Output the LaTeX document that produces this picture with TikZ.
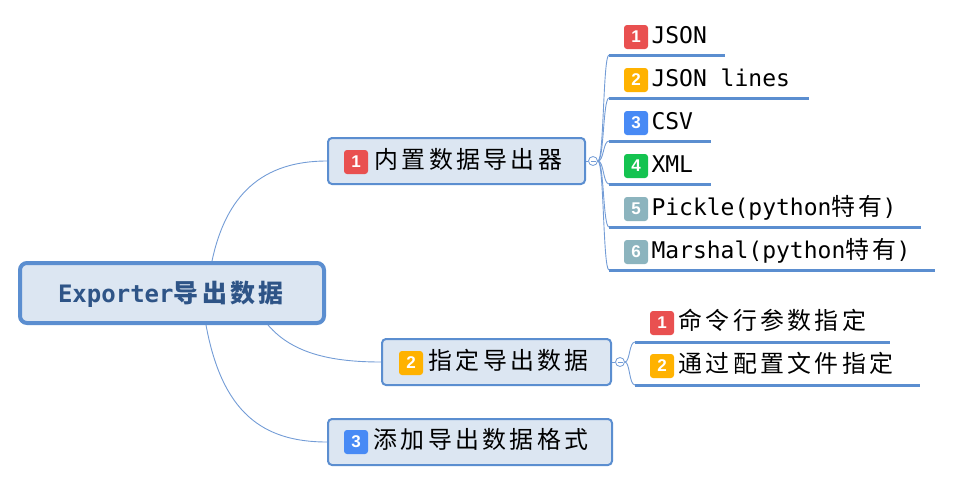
\documentclass[tikz,border=0pt]{standalone}
\usepackage{fontspec}
\setmainfont{DejaVu Sans Mono}
\newfontfamily\cjk[LetterSpace=14,Scale=1.04]{Noto Sans CJK SC}
\newfontfamily\numfont{Liberation Sans}
\definecolor{mapblue}{RGB}{91,142,208}
\definecolor{mapfill}{RGB}{220,230,242}
\definecolor{mapline}{RGB}{115,156,214}
\definecolor{roottext}{RGB}{46,84,135}
\definecolor{prio1}{RGB}{233,80,80}
\definecolor{prio2}{RGB}{255,178,0}
\definecolor{prio3}{RGB}{72,138,245}
\definecolor{prio4}{RGB}{20,195,80}
\definecolor{prio5}{RGB}{140,180,190}

\begin{document}
\begin{tikzpicture}[x=1pt,y=-1pt,line width=1pt]
  \tikzstyle{every node}=[font=\fontsize{23}{25}\selectfont]
  \tikzstyle{topic}=[draw=mapblue,fill=mapfill,rounded corners=4pt,line width=2pt]
  \tikzstyle{badge}=[rounded corners=3pt,minimum size=24pt,inner sep=0pt,text=white,font=\numfont\bfseries\fontsize{17}{17}\selectfont]
  \tikzstyle{leaf}=[anchor=west,inner sep=0pt,text height=17pt,text depth=4pt]
  \tikzstyle{uline}=[draw=mapblue,line width=3pt]
  \tikzstyle{conn}=[draw=mapline,line width=0.9pt]
  \tikzstyle{fold}=[draw=mapline,fill=white,circle,minimum size=9pt,inner sep=0pt,line width=0.8pt]
  \useasboundingbox (0,0) rectangle (953,483);

  % root
  \node[topic,line width=4pt,rounded corners=7pt,minimum width=304pt,minimum height=60pt] (root) at (172,293) {};
  \node[text=roottext,font=\fontsize{24}{26}\selectfont\bfseries] (roottxt) at (171,294) {Exporter{\cjk 导出数据}};

  % main topics
  \node[topic,minimum width=257pt,minimum height=46pt] (k1) at (456.5,161) {};
  \node[badge,fill=prio1] (k1b) at (356,162) {1};
  \node[leaf] (k1t) at (374,162) {\cjk 内置数据导出器};
  \node[topic,minimum width=229pt,minimum height=46pt] (k2) at (496.5,362) {};
  \node[badge,fill=prio2] (k2b) at (411,363) {2};
  \node[leaf] (k2t) at (428,363) {\cjk 指定导出数据};
  \node[topic,minimum width=284pt,minimum height=46pt] (k3) at (470,442) {};
  \node[badge,fill=prio3] (k3b) at (356,442) {3};
  \node[leaf] (k3t) at (373,442) {\cjk 添加导出数据格式};

  \draw[conn] ([xshift=40pt]root.north) .. controls (226,195) and (262,161) .. (k1.west);
  \draw[conn] ([xshift=96pt]root.south) .. controls (292,353) and (330,362) .. (k2.west);
  \draw[conn] ([xshift=34pt]root.south) .. controls (222,412) and (262,442) .. (k3.west);

  % exporters
  \node[fold] (c1) at (593,161) {};
  \draw[mapline,line width=0.8pt] ([xshift=-2.5pt]c1.center) -- ([xshift=2.5pt]c1.center);
  \draw[conn] (k1.east) -- (c1.west);
  \foreach \y/\e/\n/\c/\t in {55/725/1/prio1/JSON, 98/809/2/prio2/JSON lines, 141/711/3/prio3/CSV,
      184/711/4/prio4/XML, 227/921/5/prio5/Pickle(python{\cjk 特有}), 270/935/6/prio5/Marshal(python{\cjk 特有})}{
    \coordinate (e\n s) at (609,\y);
    \coordinate (e\n e) at (\e,\y);
    \node[badge,fill=\c] (e\n b) at (636,\y-18) {\n};
    \node[leaf] (e\n t) at (651,\y-18) {\t};
    \draw[uline] (e\n s) -- (e\n e);
    \draw[conn] (c1.east) .. controls (604,161) and (603,\y) .. (e\n s);
  }

  % ways
  \node[fold] (c2) at (620,362) {};
  \draw[mapline,line width=0.8pt] ([xshift=-2.5pt]c2.center) -- ([xshift=2.5pt]c2.center);
  \draw[conn] (k2.east) -- (c2.west);
  \foreach \y/\e/\n/\c/\t in {342/890/1/prio1/命令行参数指定, 385/920/2/prio2/通过配置文件指定}{
    \coordinate (w\n s) at (635,\y);
    \coordinate (w\n e) at (\e,\y);
    \node[badge,fill=\c] (w\n b) at (662,\y-19) {\n};
    \node[leaf] (w\n t) at (678,\y-19) {\cjk \t};
    \draw[uline] (w\n s) -- (w\n e);
    \draw[conn] (c2.east) .. controls (630,362) and (629,\y) .. (w\n s);
  }
\end{tikzpicture}
\end{document}
